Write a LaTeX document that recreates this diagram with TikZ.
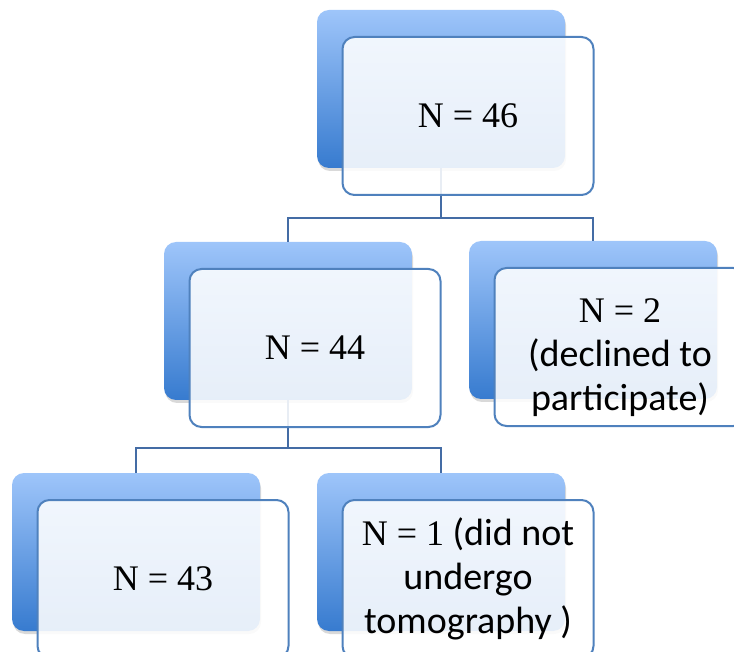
\documentclass[tikz,border=0pt]{standalone}
\usepackage{fontspec}
\setmainfont{Carlito}
\newfontfamily\numfont{Liberation Serif}
\usetikzlibrary{positioning,calc,shadows}
\definecolor{boxline}{RGB}{79,129,189}
\definecolor{linkline}{RGB}{68,108,165}
\definecolor{backtop}{RGB}{158,197,250}
\definecolor{backbot}{RGB}{55,123,207}
\newcommand\nval[1]{{\numfont\fontsize{36}{44}\selectfont #1}}

\begin{document}
\begin{tikzpicture}[x=1pt, y=-1pt,
    back/.style={rectangle, rounded corners=12pt, minimum width=248pt, minimum height=158pt,
        top color=backtop, bottom color=backbot,
        drop shadow={shadow xshift=1pt, shadow yshift=-3pt, opacity=0.3}},
    front/.style={rectangle, rounded corners=12pt, minimum width=251pt, minimum height=158pt,
        draw=boxline, line width=2pt, fill=white, fill opacity=0.88, text opacity=1,
        align=center, font=\fontsize{38}{44}\selectfont},
    link/.style={draw=linkline, line width=2pt}]
    \useasboundingbox (0,0) rectangle (734,652);
    \clip (0,0) rectangle (734,652);

    % back boxes
    \node[back] (b46) at (441,89) {};
    \node[back] (b44) at (288,321) {};
    \node[back] (b2) at (593,320) {};
    \node[back] (b43) at (136,552) {};
    \node[back] (b1) at (441,552) {};

    % links
    \draw[link] (b46.south) -- ++(0,50) coordinate (j1) -| (b44.north);
    \draw[link] (j1) -| (b2.north);
    \draw[link] (b44.south) -- ++(0,48) coordinate (j2) -| (b43.north);
    \draw[link] (j2) -| (b1.north);

    % front boxes
    \node[front] (n46) at ([shift={(27,27)}]b46) {\nval{N = 46}};
    \node[front] (n44) at ([shift={(27,27)}]b44) {\nval{N = 44}};
    \node[front] (n2) at ([shift={(27,27)}]b2) {\rule{0pt}{46pt}\nval{N = 2}\\(declined to\\participate)};
    \node[front] (n43) at ([shift={(27,27)}]b43) {\nval{N = 43}};
    \node[front] (n1) at ([shift={(27,27)}]b1) {\nval{N = 1} (did not\\undergo\\tomography )};
\end{tikzpicture}
\end{document}
